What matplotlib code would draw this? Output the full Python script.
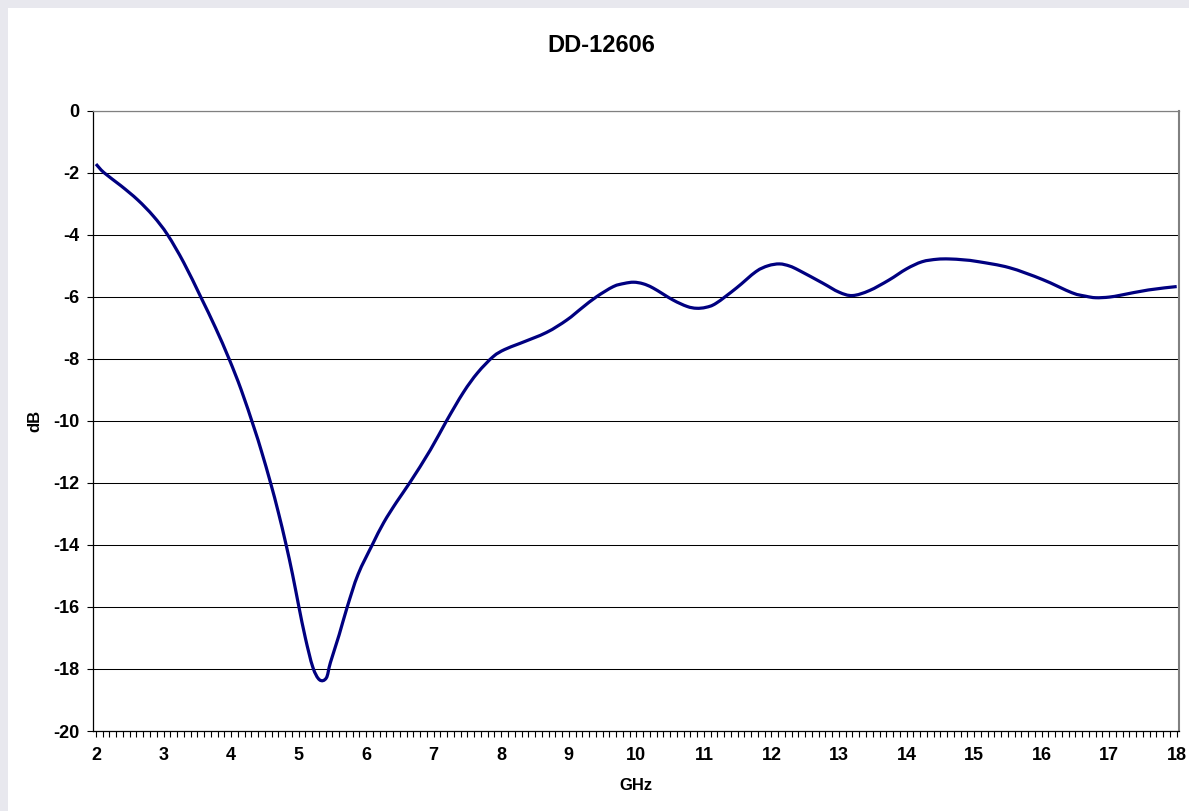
import matplotlib
matplotlib.use("Agg")
import matplotlib.pyplot as plt
from matplotlib.patches import Rectangle, PathPatch
from matplotlib.path import Path
from matplotlib.ticker import MultipleLocator

plt.rcParams['font.family'] = ['Liberation Sans', 'DejaVu Sans']

# ---- data ----
freq_ghz = [2.00, 2.12, 2.37, 2.62, 2.85, 3.06, 3.30, 3.55, 3.77, 3.97,
            4.15, 4.34, 4.45, 4.585, 4.70, 4.81, 4.91, 5.00, 5.10, 5.21,
            5.31, 5.41, 5.47, 5.60, 5.72, 5.88, 6.09, 6.26, 6.45, 6.65,
            6.95, 7.19, 7.44, 7.65, 7.88, 8.05, 8.28, 8.67, 8.97, 9.20,
            9.41, 9.66, 9.82, 9.96, 10.10, 10.25, 10.54, 10.75, 10.89, 11.03,
            11.18, 11.48, 11.77, 11.95, 12.12, 12.27, 12.41, 12.76, 13.00, 13.20,
            13.45, 13.74, 14.00, 14.23, 14.45, 14.63, 14.85, 15.07, 15.52, 16.01,
            16.45, 16.65, 16.80, 17.00, 17.19, 17.58, 18.00]
loss_db = [-1.72, -2.00, -2.42, -2.88, -3.40, -4.00, -4.90, -6.00, -7.00, -8.00,
           -9.00, -10.22, -10.98, -12.00, -12.95, -13.95, -14.95, -15.95, -17.00, -17.94,
           -18.35, -18.29, -17.80, -16.90, -16.00, -14.95, -14.00, -13.28, -12.62, -11.98,
           -10.94, -10.00, -9.08, -8.45, -7.93, -7.70, -7.50, -7.15, -6.75, -6.35,
           -6.00, -5.67, -5.57, -5.53, -5.58, -5.72, -6.10, -6.31, -6.37, -6.34,
           -6.21, -5.72, -5.19, -5.00, -4.94, -5.01, -5.15, -5.56, -5.85, -5.96,
           -5.80, -5.46, -5.10, -4.87, -4.79, -4.78, -4.81, -4.87, -5.06, -5.44,
           -5.87, -5.98, -6.03, -6.01, -5.94, -5.78, -5.67]

title = "DD-12606"
x_label = "GHz"
y_label = "dB"
x_major = list(range(2, 19))
y_major = list(range(-20, 1, 2))


def smoothed_path(xs, ys):
    """Spreadsheet-style smoothed line: cubic Bezier through every data point."""
    pts = list(zip(xs, ys))
    n = len(pts)
    verts = [pts[0]]
    codes = [Path.MOVETO]
    for i in range(n - 1):
        p0 = pts[i - 1] if i > 0 else pts[i]
        p1 = pts[i]
        p2 = pts[i + 1]
        p3 = pts[i + 2] if i + 2 < n else pts[i + 1]
        c1 = (p1[0] + (p2[0] - p0[0]) / 6, p1[1] + (p2[1] - p0[1]) / 6)
        c2 = (p2[0] - (p3[0] - p1[0]) / 6, p2[1] - (p3[1] - p1[1]) / 6)
        verts += [c1, c2, p2]
        codes += [Path.CURVE4] * 3
    return Path(verts, codes)


W, H = 1189, 811
fig = plt.figure(figsize=(W / 100, H / 100), dpi=100, facecolor='#e8e8ee')
fig.patches.append(Rectangle((8 / W, 0), 1 - 8 / W, 1 - 7.5 / H,
                             transform=fig.transFigure, facecolor='white',
                             edgecolor='none', zorder=-10))

ax_l, ax_r, ax_t, ax_b = 93, 1179, 110.7, 731
ax = fig.add_axes([ax_l / W, 1 - ax_b / H, (ax_r - ax_l) / W, (ax_b - ax_t) / H])
ax.set_zorder(2)
ax.set_facecolor('white')

ax.add_patch(PathPatch(smoothed_path(freq_ghz, loss_db), facecolor='none',
                       edgecolor='#000080', lw=2.3, joinstyle='round',
                       capstyle='butt', zorder=3))

ax.set_xlim(1.956, 18.034)
ax.set_ylim(-20, 0)

ax.set_xticks(x_major)
ax.set_xticklabels([str(v) for v in x_major])
ax.xaxis.set_minor_locator(MultipleLocator(0.1))
ax.set_yticks(y_major)
ax.set_yticklabels([str(v) for v in y_major])

ax.tick_params(axis='x', which='both', direction='out', length=4.5, width=0.8,
               color='black', labelsize=13, pad=7)
ax.tick_params(axis='y', which='major', direction='out', length=4.5, width=0.8,
               color='black', labelsize=13, pad=5)
for lab in ax.get_xticklabels() + ax.get_yticklabels():
    lab.set_fontweight('bold')

ax.grid(axis='y', which='major', color='black', lw=0.75, zorder=1)
ax.set_axisbelow(True)

ax.spines['left'].set_color('black')
ax.spines['left'].set_linewidth(0.9)
ax.spines['bottom'].set_color('black')
ax.spines['bottom'].set_linewidth(0.9)
ax.spines['right'].set_color('#808080')
ax.spines['right'].set_linewidth(1.5)
ax.spines['top'].set_color('#808080')
ax.spines['top'].set_linewidth(0.9)

ax.set_xlabel(x_label, fontsize=12, fontweight='bold')
ax.xaxis.set_label_coords(0.5, -0.076)
ax.set_ylabel(y_label, fontsize=12, fontweight='bold')
ax.yaxis.set_label_coords(-0.047, 0.5)

fig.text(601 / W, 1 - 45 / H, title, ha='center', va='center',
         fontsize=17, fontweight='bold')

fig.savefig('out.png', dpi=100, facecolor=fig.get_facecolor())
